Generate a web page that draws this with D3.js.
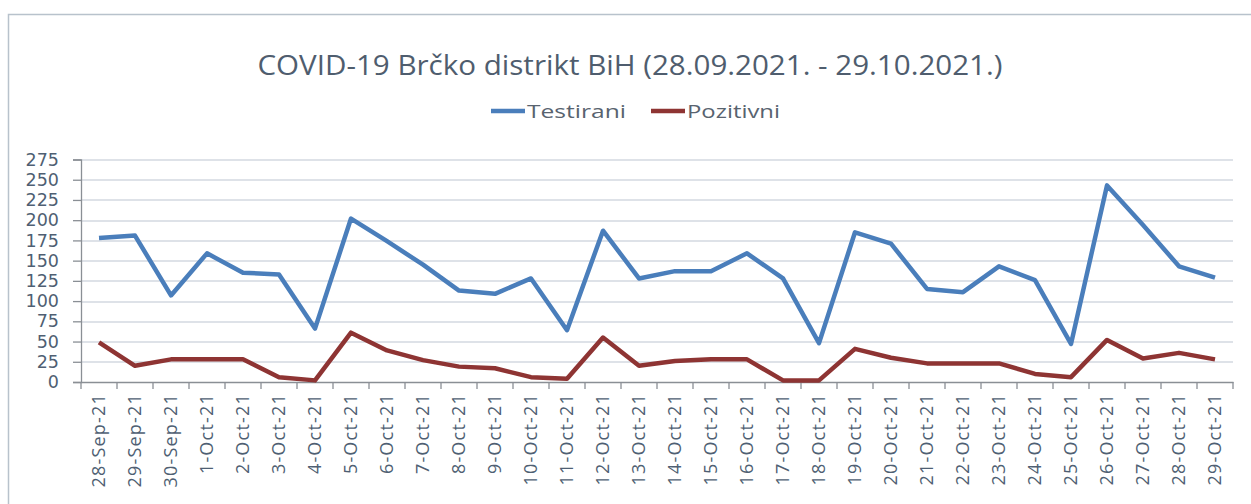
<!DOCTYPE html>
<html>
<head>
<meta charset="utf-8">
<script src="https://cdn.jsdelivr.net/npm/d3@7"></script>
<style>
  body { margin: 0; background: #fff; }
  .content { width: 1251px; height: 504px; }
</style>
</head>
<body>
<div class="content"></div>
<script>
var days = ['28-Sep-21','29-Sep-21','30-Sep-21','1-Oct-21','2-Oct-21','3-Oct-21','4-Oct-21',
  '5-Oct-21','6-Oct-21','7-Oct-21','8-Oct-21','9-Oct-21','10-Oct-21','11-Oct-21','12-Oct-21',
  '13-Oct-21','14-Oct-21','15-Oct-21','16-Oct-21','17-Oct-21','18-Oct-21','19-Oct-21','20-Oct-21',
  '21-Oct-21','22-Oct-21','23-Oct-21','24-Oct-21','25-Oct-21','26-Oct-21','27-Oct-21','28-Oct-21','29-Oct-21'];

var testirani = [178,181,107,159,135,133,66,202,174,145,113,109,128,64,187,
  128,137,137,159,128,48,185,171,115,111,143,126,47,243,194,143,129];

var pozitivni = [49,20,28,28,28,6,2,61,39,27,19,17,6,4,55,
  20,26,28,28,2,2,41,30,23,23,23,10,6,52,29,36,28];

var yTicks = [0,25,50,75,100,125,150,175,200,225,250,275];

var seriesNames = ['Testirani','Pozitivni'];
var seriesColors = ['#4a7ebb','#8e3433'];

var svg = d3.select(".content")
  .append('svg')
  .attr('width', 1251)
  .attr('height', 504);

// chart frame (only left + top visible in the crop)
svg.append('path')
  .attr('d', 'M8.5,504 L8.5,14.5 L1251,14.5')
  .attr('fill', 'none')
  .attr('stroke', '#b8c2cc')
  .attr('stroke-width', 1.5);

var margin = {left:81, top:159.5, right:18, bottom:122};
var width = 1251 - margin.left - margin.right,
  height = 504 - margin.top - margin.bottom;

var g = svg.append('g')
  .attr('transform', "translate(" + margin.left + "," + margin.top + ")");

var x = d3.scaleBand().range([0, width]).domain(days);
var y = d3.scaleLinear().range([height, 0]).domain([0, 275]);

// gridlines
g.append('g')
  .selectAll('line')
  .data(yTicks.slice(1))
  .enter()
  .append('line')
  .attr('x1', 0)
  .attr('x2', width)
  .attr('y1', function(d){ return Math.round(y(d)) + 0.5; })
  .attr('y2', function(d){ return Math.round(y(d)) + 0.5; })
  .attr('stroke', '#d3d9e0')
  .attr('stroke-width', 1.3);

// y axis
var axisY = g.append('g')
  .attr('class', 'axis axis--y')
  .call(d3.axisLeft(y).tickValues(yTicks).tickSize(8).tickPadding(14));
axisY.selectAll('path').attr('stroke', '#8a8f95').attr('stroke-width', 1.3);
axisY.selectAll('line').attr('stroke', '#8a8f95').attr('stroke-width', 1.3);
axisY.selectAll('text')
  .style('font-family', '"DejaVu Sans", sans-serif')
  .style('font-size', '17.5px')
  .style('fill', '#4f5f73');

// x axis, ticks on band edges
var axisX = g.append('g')
  .attr('class', 'axis axis--x')
  .attr('transform', 'translate(0,' + height + ')')
  .call(d3.axisBottom(x).tickSize(0).tickPadding(0));
axisX.select('path').attr('stroke', '#8a8f95').attr('stroke-width', 1.5);
axisX.selectAll('.tick line').remove();

axisX.append('g')
  .selectAll('line')
  .data(days.concat(['end']))
  .enter()
  .append('line')
  .attr('x1', function(d, i){ return i * x.step(); })
  .attr('x2', function(d, i){ return i * x.step(); })
  .attr('y1', 0)
  .attr('y2', 7)
  .attr('stroke', '#8a8f95')
  .attr('stroke-width', 1.3);

axisX.selectAll('.tick text')
  .attr('transform', 'rotate(-90)')
  .attr('x', -11)
  .attr('y', 0)
  .attr('dy', '0.35em')
  .style('text-anchor', 'end')
  .style('letter-spacing', '1.2px')
  .style('font-family', '"Open Sans", sans-serif')
  .style('font-size', '18px')
  .style('fill', '#4f5f73');

// lines
var line = d3.line()
  .x(function(d, i){ return x(days[i]) + x.bandwidth() / 2; })
  .y(function(d){ return y(d); });

[testirani, pozitivni].forEach(function(s, k){
  g.append('path')
    .datum(s)
    .attr('d', line)
    .attr('fill', 'none')
    .attr('stroke', seriesColors[k])
    .attr('stroke-width', 4.5)
    .attr('stroke-linejoin', 'round');
});

// title
svg.append('text')
  .attr('x', 630)
  .attr('y', 75)
  .attr('text-anchor', 'middle')
  .attr('textLength', 745)
  .attr('lengthAdjust', 'spacingAndGlyphs')
  .style('font-family', '"Open Sans", sans-serif')
  .style('font-size', '27px')
  .style('fill', '#4f5d6e')
  .text('COVID-19 Brčko distrikt BiH (28.09.2021. - 29.10.2021.)');

// legend
var legendX = [491, 651];
var legendW = [99, 93];
var legend = svg.append('g');
seriesNames.forEach(function(name, k){
  legend.append('line')
    .attr('x1', legendX[k])
    .attr('x2', legendX[k] + 34)
    .attr('y1', 111)
    .attr('y2', 111)
    .attr('stroke', seriesColors[k])
    .attr('stroke-width', 4.5);
  legend.append('text')
    .attr('x', legendX[k] + 36)
    .attr('y', 118)
    .attr('textLength', legendW[k])
    .attr('lengthAdjust', 'spacingAndGlyphs')
    .style('font-family', '"Open Sans", sans-serif')
    .style('font-size', '18px')
    .style('fill', '#58636f')
    .text(name);
});
</script>
</body>
</html>
